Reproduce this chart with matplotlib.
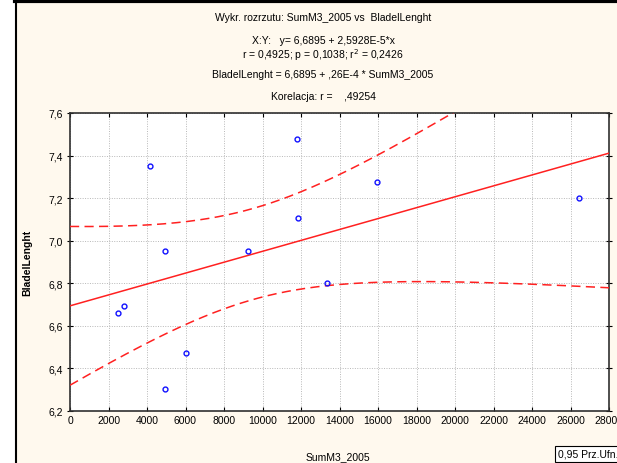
import matplotlib

matplotlib.use("Agg")
import matplotlib.pyplot as plt
import numpy as np
from matplotlib.lines import Line2D
from matplotlib.ticker import FuncFormatter

# values
sum_m3 = [4150, 11780, 11850, 4960, 9230, 13360, 2500, 2790, 6000, 4960, 15940, 26440]
blade_len = [7.351, 7.480, 7.108, 6.950, 6.950, 6.800, 6.662, 6.692, 6.474, 6.302, 7.277, 7.202]

title_lines = [
    "Wykr. rozrzutu: SumM3_2005 vs  BladelLenght",
    "X:Y:   y= 6,6895 + 2,5928E-5*x",
    "r = 0,4925; p = 0,1038; r$^2$ = 0,2426",
    "BladelLenght = 6,6895 + ,26E-4 * SumM3_2005",
    "Korelacja: r =    ,49254",
]
title_y_px = [18, 41, 55, 75, 97]

x_ticks = np.arange(0, 28001, 2000)
y_ticks = np.arange(6.2, 7.61, 0.2)
T_CRIT = 2.228  # t(0.975, df=10)

plt.rcParams["font.family"] = ["Liberation Sans", "DejaVu Sans"]
W, H = 617, 464
fig = plt.figure(figsize=(W / 100, H / 100), dpi=100)
fig.patch.set_facecolor("white")

# cream panel with the black frame on the left/top
fig.add_artist(plt.Rectangle((16 / W, 0), 1, 1 - 3 / H, transform=fig.transFigure,
                             facecolor="#fff9ee", edgecolor="none", zorder=-5))
fig.add_artist(Line2D([15.5 / W, 15.5 / W], [0, 1], transform=fig.transFigure,
                      color="black", lw=1.5))
fig.add_artist(Line2D([15 / W, 1], [1 - 1.5 / H, 1 - 1.5 / H], transform=fig.transFigure,
                      color="black", lw=3))

ax = fig.add_axes([70 / W, 1 - 412 / H, 539 / W, 298 / H])
ax.set_facecolor("white")

x = np.array(sum_m3, dtype=float)
y = np.array(blade_len, dtype=float)
slope, icpt = np.polyfit(x, y, 1)
n = len(x)
resid = y - (icpt + slope * x)
s = np.sqrt(np.sum(resid ** 2) / (n - 2))
sxx = np.sum((x - x.mean()) ** 2)

xs = np.linspace(0, 28000, 300)
fit = icpt + slope * xs
half = T_CRIT * s * np.sqrt(1 / n + (xs - x.mean()) ** 2 / sxx)

ax.plot(xs, fit, color="#ff2020", lw=1.1, zorder=3)
ax.plot(xs, fit + half, color="#ff2020", lw=1.1, ls=(0, (6, 3.5)), zorder=3)
ax.plot(xs, fit - half, color="#ff2020", lw=1.1, ls=(0, (6, 3.5)), zorder=3)
ax.plot(x, y, "o", ms=3.5, mfc="none", mec="#1010ff", mew=1.0, zorder=4)

ax.set_xlim(0, 28000)
ax.set_ylim(6.2, 7.6)
ax.set_xticks(x_ticks)
ax.set_yticks(y_ticks)
ax.yaxis.set_major_formatter(FuncFormatter(lambda v, p: f"{v:.1f}".replace(".", ",")))
ax.grid(True, color="#b8b8b8", ls=(0, (1, 1.5)), lw=0.7)
ax.tick_params(labelsize=7.5, length=3, width=0.8, colors="black",
               top=True, right=True, direction="in", pad=3)
ax.tick_params(axis="y", which="major", left=True, direction="inout", length=4)
for sp in ax.spines.values():
    sp.set_linewidth(1.2)
    sp.set_color("#303030")

ax.set_xlabel("SumM3_2005", fontsize=7.5)
ax.xaxis.set_label_coords(268 / 539, -(452 - 412) / 298)
ax.set_ylabel("BladelLenght", fontsize=7.5, fontweight="bold")
ax.yaxis.set_label_coords(-(70 - 32) / 539, 0.5)

for txt, ypx in zip(title_lines, title_y_px):
    fig.text(323 / W, 1 - ypx / H, txt, ha="center", va="center", fontsize=7.5)

fig.text(558 / W, 1 - 455 / H, "0,95 Prz.Ufn.", fontsize=7.5, ha="left", va="center",
         bbox=dict(boxstyle="square,pad=0.25", fc="white", ec="black", lw=0.8))

fig.savefig("out.png", dpi=100)
